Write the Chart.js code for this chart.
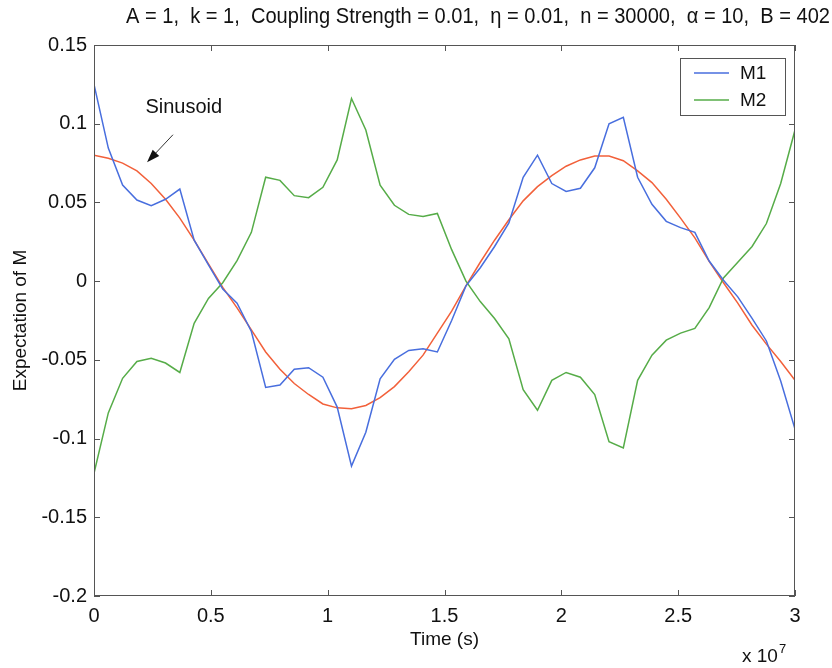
<!DOCTYPE html>
<html>
<head>
<meta charset="utf-8">
<script src="https://cdn.jsdelivr.net/npm/chart.js@4.4.0/dist/chart.umd.min.js"></script>
<style>
  html, body { margin: 0; padding: 0; background: #fff; }
  #wrap { width: 832px; height: 668px; }
</style>
</head>
<body>
<div id="wrap"><canvas id="chart"></canvas></div>
<script>
// time axis, units of 1e7 s
const times = [0, 0.0612, 0.1224, 0.1837, 0.2449, 0.3061, 0.3673, 0.4286, 0.4898, 0.5510,
  0.6122, 0.6735, 0.7347, 0.7959, 0.8571, 0.9184, 0.9796, 1.0408, 1.1020, 1.1633,
  1.2245, 1.2857, 1.3469, 1.4082, 1.4694, 1.5306, 1.5918, 1.6531, 1.7143, 1.7755,
  1.8367, 1.8980, 1.9592, 2.0204, 2.0816, 2.1429, 2.2041, 2.2653, 2.3265, 2.3878,
  2.4490, 2.5102, 2.5714, 2.6327, 2.6939, 2.7551, 2.8163, 2.8776, 2.9388, 3.0];

const m1 = [0.125, 0.0845, 0.061, 0.0515, 0.048, 0.052, 0.0585, 0.026, 0.0104, -0.005,
  -0.014, -0.032, -0.0675, -0.066, -0.056, -0.055, -0.061, -0.080, -0.1175, -0.096,
  -0.062, -0.0497, -0.044, -0.043, -0.045, -0.025, -0.003, 0.0085, 0.022, 0.037,
  0.066, 0.080, 0.062, 0.057, 0.059, 0.072, 0.100, 0.104, 0.066, 0.0488,
  0.038, 0.034, 0.031, 0.0128, 0.0006, -0.010, -0.0236, -0.038, -0.0634, -0.094];

const m2 = [-0.122, -0.0837, -0.0617, -0.051, -0.049, -0.052, -0.058, -0.0268, -0.011, -0.001,
  0.013, 0.031, 0.066, 0.064, 0.0543, 0.053, 0.0596, 0.077, 0.116, 0.096,
  0.061, 0.0482, 0.0424, 0.041, 0.043, 0.020, 0.000, -0.013, -0.0237, -0.0367,
  -0.069, -0.082, -0.063, -0.058, -0.061, -0.072, -0.102, -0.106, -0.063, -0.047,
  -0.0375, -0.033, -0.030, -0.0168, 0.002, 0.012, 0.022, 0.0366, 0.062, 0.096];

const sinusoid = [0.080, 0.078, 0.075, 0.070, 0.062, 0.052, 0.040, 0.026, 0.011, -0.004,
  -0.017, -0.031, -0.045, -0.056, -0.065, -0.072, -0.078, -0.0805, -0.081, -0.079,
  -0.074, -0.067, -0.0575, -0.047, -0.033, -0.019, -0.003, 0.012, 0.026, 0.039,
  0.051, 0.060, 0.067, 0.073, 0.077, 0.0795, 0.0795, 0.0765, 0.070, 0.0626,
  0.052, 0.040, 0.0275, 0.0126, -0.001, -0.014, -0.028, -0.040, -0.051, -0.063];

const xTicks = [0, 0.5, 1, 1.5, 2, 2.5, 3];
const yTicks = [-0.2, -0.15, -0.1, -0.05, 0, 0.05, 0.1, 0.15];

const titleText = 'A = 1,  k = 1,  Coupling Strength = 0.01,  \u03b7 = 0.01,  n = 30000,  \u03b1 = 10,  B = 402';
const FONT = '"Liberation Sans", Arial, Helvetica, sans-serif';

const colM1 = 'rgb(72, 110, 222)';
const colM2 = 'rgb(86, 172, 72)';
const colSin = 'rgb(242, 96, 58)';

function pts(ys) {
  return ys.map((v, i) => ({ x: times[i], y: v }));
}

// matlab style box, inward ticks, title, legend and annotations
const matlabAxes = {
  id: 'matlabAxes',
  afterDraw(chart) {
    const { ctx, chartArea: a, scales: { x, y } } = chart;
    ctx.save();
    ctx.strokeStyle = '#555';
    ctx.lineWidth = 1;
    ctx.strokeRect(a.left + 0.5, a.top + 0.5, a.right - a.left - 1, a.bottom - a.top - 1);
    ctx.beginPath();
    xTicks.forEach(v => {
      const px = Math.round(x.getPixelForValue(v)) + 0.5;
      ctx.moveTo(px, a.bottom); ctx.lineTo(px, a.bottom - 6);
      ctx.moveTo(px, a.top); ctx.lineTo(px, a.top + 6);
    });
    yTicks.forEach(v => {
      const py = Math.round(y.getPixelForValue(v)) + 0.5;
      ctx.moveTo(a.left, py); ctx.lineTo(a.left + 6, py);
      ctx.moveTo(a.right, py); ctx.lineTo(a.right - 6, py);
    });
    ctx.stroke();

    ctx.fillStyle = '#111';

    // title, squeezed to the width it has in the original
    ctx.save();
    ctx.font = '22px ' + FONT;
    const tw = ctx.measureText(titleText).width;
    ctx.translate(126, 23);
    ctx.scale(704 / tw, 1);
    ctx.textBaseline = 'alphabetic';
    ctx.fillText(titleText, 0, 0);
    ctx.restore();

    // x 10^7
    ctx.font = '19px ' + FONT;
    ctx.textBaseline = 'alphabetic';
    ctx.fillText('x 10', a.right - 53, 662);
    ctx.font = '13px ' + FONT;
    ctx.fillText('7', a.right - 16, 653);

    // sinusoid annotation
    ctx.font = '20px ' + FONT;
    ctx.textBaseline = 'middle';
    ctx.fillText('Sinusoid', x.getPixelForValue(0.22), y.getPixelForValue(0.110));
    const x0 = x.getPixelForValue(0.338), y0 = y.getPixelForValue(0.093);
    const x1 = x.getPixelForValue(0.227), y1 = y.getPixelForValue(0.0755);
    const ang = Math.atan2(y1 - y0, x1 - x0);
    ctx.strokeStyle = '#333';
    ctx.beginPath();
    ctx.moveTo(x0, y0);
    ctx.lineTo(x1 - 10 * Math.cos(ang), y1 - 10 * Math.sin(ang));
    ctx.stroke();
    ctx.fillStyle = '#111';
    ctx.beginPath();
    ctx.moveTo(x1, y1);
    ctx.lineTo(x1 - 13 * Math.cos(ang) + 4.5 * Math.sin(ang), y1 - 13 * Math.sin(ang) - 4.5 * Math.cos(ang));
    ctx.lineTo(x1 - 13 * Math.cos(ang) - 4.5 * Math.sin(ang), y1 - 13 * Math.sin(ang) + 4.5 * Math.cos(ang));
    ctx.closePath();
    ctx.fill();

    // legend
    const lx = a.right - 115, ly = a.top + 13;
    ctx.fillStyle = '#fff';
    ctx.fillRect(lx, ly, 105, 57);
    ctx.strokeStyle = '#555';
    ctx.strokeRect(lx + 0.5, ly + 0.5, 105, 57);
    ctx.lineWidth = 1.5;
    ctx.strokeStyle = colM1;
    ctx.beginPath(); ctx.moveTo(lx + 14, ly + 15); ctx.lineTo(lx + 49, ly + 15); ctx.stroke();
    ctx.strokeStyle = colM2;
    ctx.beginPath(); ctx.moveTo(lx + 14, ly + 42); ctx.lineTo(lx + 49, ly + 42); ctx.stroke();
    ctx.fillStyle = '#111';
    ctx.font = '19px ' + FONT;
    ctx.textBaseline = 'middle';
    ctx.fillText('M1', lx + 60, ly + 16);
    ctx.fillText('M2', lx + 60, ly + 43);
    ctx.restore();
  }
};

new Chart(document.getElementById('chart'), {
  type: 'line',
  data: {
    datasets: [{
      label: 'M1',
      data: pts(m1),
      borderColor: colM1,
      borderWidth: 1.5,
      pointRadius: 0,
      tension: 0
    },
    {
      label: 'M2',
      data: pts(m2),
      borderColor: colM2,
      borderWidth: 1.5,
      pointRadius: 0,
      tension: 0
    },
    {
      label: 'Sinusoid',
      data: pts(sinusoid),
      borderColor: colSin,
      borderWidth: 1.5,
      pointRadius: 0,
      tension: 0
    }]
  },
  options: {
    responsive: true,
    maintainAspectRatio: false,
    animation: false,
    layout: { padding: { left: 0, right: 37, top: 45, bottom: 0 } },
    plugins: {
      legend: { display: false },
      tooltip: { enabled: false }
    },
    scales: {
      x: {
        type: 'linear',
        min: 0,
        max: 3,
        afterBuildTicks: s => { s.ticks = xTicks.map(v => ({ value: v })); },
        afterFit: s => { s.height = 72; },
        grid: { display: false, drawTicks: false },
        border: { display: false },
        ticks: {
          color: '#111',
          padding: 8,
          maxRotation: 0,
          font: { family: FONT, size: 20 },
          callback: v => String(v)
        },
        title: {
          display: true,
          text: 'Time (s)',
          color: '#111',
          font: { family: FONT, size: 19, lineHeight: 1.2 },
          padding: { top: 0, bottom: 17 }
        }
      },
      y: {
        type: 'linear',
        min: -0.2,
        max: 0.15,
        afterBuildTicks: s => { s.ticks = yTicks.map(v => ({ value: v })); },
        afterFit: s => { s.width = 94; },
        grid: { display: false, drawTicks: false },
        border: { display: false },
        ticks: {
          color: '#111',
          padding: 7,
          font: { family: FONT, size: 20 },
          callback: v => String(v)
        },
        title: {
          display: true,
          text: 'Expectation of M',
          color: '#111',
          font: { family: FONT, size: 19, lineHeight: 1.2 },
          padding: { top: 9, bottom: 0 }
        }
      }
    }
  },
  plugins: [matlabAxes]
});
</script>
</body>
</html>
